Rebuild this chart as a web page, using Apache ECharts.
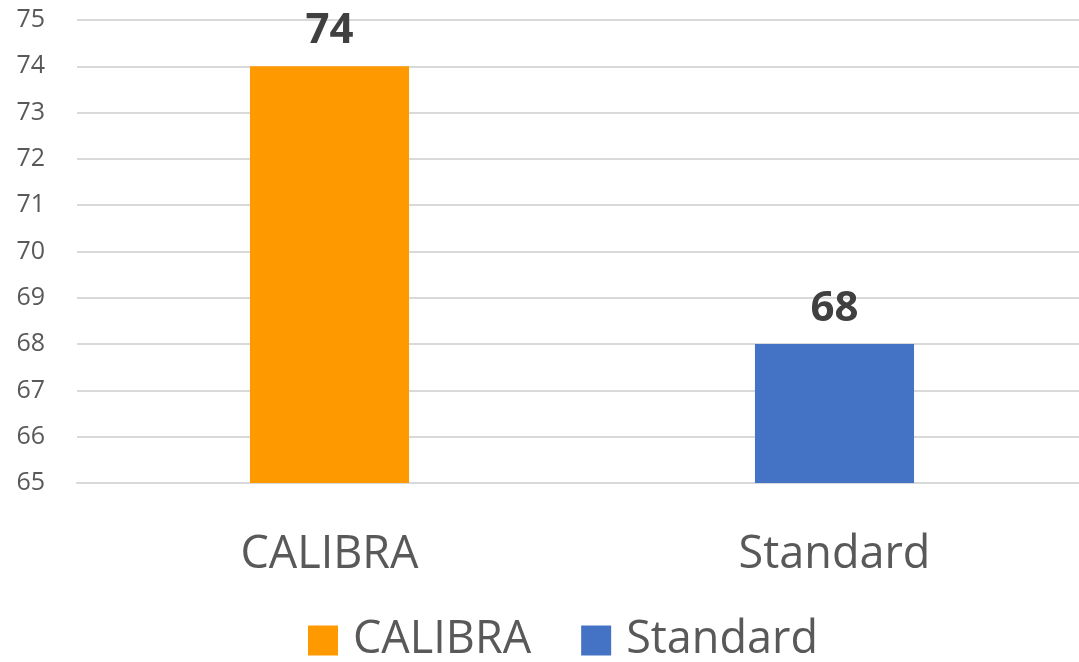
<!DOCTYPE html>
<html>
<head>
<meta charset="utf-8">
<script src="https://cdn.jsdelivr.net/npm/echarts@6/dist/echarts.min.js"></script>
<style>
  html, body { margin: 0; padding: 0; background: #fff; }
  #main { width: 1079px; height: 662px; }
</style>
</head>
<body>
<div id="main"></div>
<script>
const categories = ['CALIBRA', 'Standard'];
const values = [74, 68];
const colors = ['#ff9900', '#4472c4'];
const yMin = 65, yMax = 75, yStep = 1;

const font = '"Open Sans", "Liberation Sans", sans-serif';

const series = categories.map(function (name, i) {
  const data = categories.map(function (c, j) { return j === i ? values[i] : '-'; });
  return {
    name: name,
    type: 'bar',
    stack: 'all',
    barWidth: '31.5%',
    itemStyle: { color: colors[i] },
    label: {
      show: true,
      position: 'top',
      distance: 14,
      fontSize: 42,
      fontWeight: 'bold',
      fontFamily: font,
      color: '#404040'
    },
    data: data
  };
});

const myChart = echarts.init(document.getElementById('main'), null, { renderer: 'canvas' });
myChart.setOption({
  animation: false,
  backgroundColor: '#ffffff',
  textStyle: { fontFamily: font },
  grid: { left: 77, width: 1010, top: 20, bottom: 179, containLabel: false, outerBoundsMode: 'none' },
  legend: {
    data: categories,
    bottom: -6,
    left: 303,
    itemWidth: 30,
    itemHeight: 30,
    itemGap: 50,
    icon: 'rect',
    textStyle: { fontSize: 45, color: '#595959', fontFamily: font, padding: [0, 0, 0, 10] }
  },
  xAxis: {
    type: 'category',
    data: categories,
    axisLine: { show: true, lineStyle: { color: '#d9d9d9', width: 2 } },
    axisTick: { show: false },
    axisLabel: { fontSize: 45, color: '#595959', margin: 50, fontFamily: font }
  },
  yAxis: {
    type: 'value',
    min: yMin,
    max: yMax,
    interval: yStep,
    axisLine: { show: false },
    axisTick: { show: false },
    splitLine: { lineStyle: { color: '#d9d9d9', width: 2 } },
    axisLabel: { fontSize: 25, color: '#595959', margin: 32, fontFamily: font }
  },
  series: series
});
</script>
</body>
</html>
